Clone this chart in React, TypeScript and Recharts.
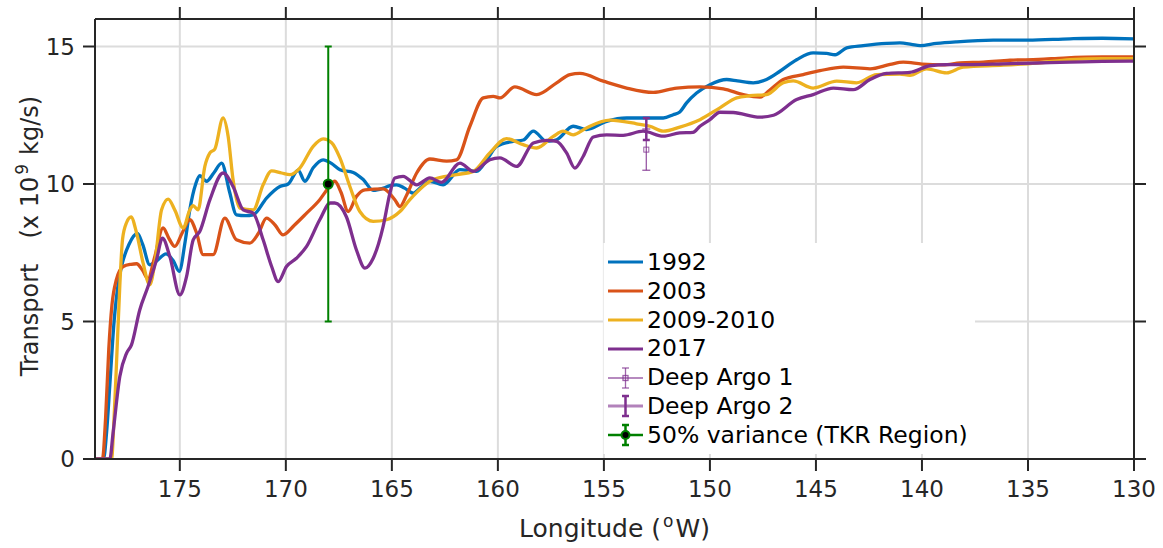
import React from 'react';
import {
  ComposedChart,
  Line,
  Scatter,
  ErrorBar,
  XAxis,
  YAxis,
  CartesianGrid,
  Legend,
  Label,
} from 'recharts';

const FONT = '"DejaVu Sans", "Liberation Sans", sans-serif';
const BLUE = '#0072BD';
const ORANGE = '#D95319';
const YELLOW = '#EDB120';
const PURPLE = '#7E2F8E';
const GREEN = '#008000';
const AXIS = '#262626';

const xTicks = [175, 170, 165, 160, 155, 150, 145, 140, 135, 130];
const yTicks = [0, 5, 10, 15];

// [longitude (deg W), transport (x 10^9 kg/s)]
const s1992: [number, number][] = [
  [179.0, 0], [178.6, 0], [178.45, 1.0], [178.3, 2.7], [178.1, 5.0], [177.9, 6.4], [177.75, 7.0],
  [177.4, 7.8], [177.0, 8.2], [176.75, 7.8], [176.42, 7.06], [176.1, 7.2], [175.65, 7.46], [175.3, 7.2],
  [175.03, 6.82], [174.75, 7.9], [174.53, 9.06], [174.25, 10.0], [174.06, 10.3], [173.74, 10.1],
  [173.4, 10.4], [173.03, 10.76], [172.65, 9.7], [172.33, 8.88], [171.9, 8.85], [171.54, 8.88],
  [170.91, 9.49], [170.28, 9.91], [169.89, 10.0], [169.42, 10.5], [169.1, 10.1], [168.7, 10.6],
  [168.24, 10.88], [167.85, 10.75], [167.45, 10.52], [166.82, 10.42], [166.35, 10.16], [165.88, 9.77],
  [165.4, 9.85], [165.09, 9.94], [164.78, 9.97], [164.4, 9.85], [163.99, 9.67], [163.6, 9.9],
  [163.21, 10.1], [162.58, 9.97], [161.79, 10.52], [161.0, 10.46], [160.5, 10.9], [160.06, 11.37],
  [159.28, 11.55], [158.8, 11.6], [158.33, 11.92], [157.7, 11.55], [157.23, 11.61], [156.45, 12.1],
  [155.82, 11.98], [154.87, 12.28], [153.93, 12.4], [152.99, 12.4], [152.2, 12.4], [151.73, 12.52],
  [151.42, 12.62], [151.1, 12.95], [150.63, 13.31], [150.0, 13.61], [149.21, 13.8], [148.7, 13.75],
  [147.96, 13.68], [147.33, 13.8], [146.7, 14.1], [145.91, 14.52], [145.13, 14.77], [144.5, 14.75],
  [144.1, 14.7], [143.55, 14.95], [142.77, 15.03], [141.67, 15.11], [141.04, 15.13], [140.5, 15.08],
  [140.09, 15.03], [139.31, 15.11], [138.36, 15.17], [136.64, 15.23], [135.0, 15.23], [133.02, 15.28],
  [131.5, 15.3], [130.0, 15.28],
];

const s2003: [number, number][] = [
  [179.0, 0], [178.65, 0], [178.5, 1.5], [178.35, 4.0], [178.2, 5.6], [178.0, 6.5], [177.67, 7.0],
  [177.3, 7.08], [177.04, 7.1], [176.75, 6.85], [176.5, 6.55], [176.2, 7.3], [175.79, 8.4], [175.5, 8.0],
  [175.24, 7.73], [174.9, 8.2], [174.53, 8.7], [174.21, 8.22], [173.9, 7.43], [173.43, 7.43],
  [172.88, 8.76], [172.33, 7.97], [171.7, 7.85], [171.3, 8.2], [170.91, 8.76], [170.5, 8.5],
  [170.13, 8.15], [169.6, 8.5], [169.02, 8.94], [168.4, 9.43], [168.0, 9.85], [167.69, 10.1],
  [167.4, 9.7], [167.06, 9.0], [166.67, 9.55], [166.27, 9.79], [165.41, 9.82], [164.86, 9.43],
  [164.62, 9.18], [164.3, 9.6], [163.83, 10.4], [163.21, 10.91], [162.42, 10.83], [161.95, 10.88],
  [161.32, 12.1], [160.69, 13.13], [160.22, 13.19], [159.9, 13.13], [159.2, 13.53], [158.17, 13.25],
  [157.23, 13.68], [156.6, 13.98], [156.13, 14.02], [155.03, 13.74], [153.93, 13.49], [152.67, 13.33],
  [151.57, 13.49], [150.47, 13.53], [149.37, 13.46], [148.43, 13.25], [147.64, 13.16], [147.2, 13.4],
  [146.54, 13.8], [145.6, 13.98], [144.81, 14.12], [143.71, 14.25], [142.45, 14.19], [141.5, 14.35],
  [140.88, 14.43], [140.0, 14.36], [139.0, 14.33], [138.2, 14.4], [137.11, 14.43], [135.85, 14.5],
  [134.5, 14.53], [133.33, 14.58], [131.5, 14.62], [130.0, 14.62],
];

const s2009: [number, number][] = [
  [179.0, 0], [178.22, 0], [178.1, 1.5], [177.99, 3.4], [177.83, 6.3], [177.7, 8.0], [177.51, 8.6],
  [177.3, 8.8], [177.04, 8.22], [176.73, 7.12], [176.42, 6.33], [176.18, 7.12], [175.86, 9.06],
  [175.55, 9.45], [175.24, 9.06], [174.84, 8.4], [174.53, 9.06], [174.37, 9.21], [174.14, 9.06],
  [173.82, 10.64], [173.58, 11.13], [173.35, 11.27], [172.96, 12.4], [172.72, 11.73], [172.49, 10.16],
  [172.17, 9.12], [171.54, 9.06], [171.07, 9.97], [170.67, 10.48], [170.2, 10.4], [169.81, 10.34],
  [169.34, 10.58], [168.71, 11.37], [168.24, 11.64], [167.84, 11.5], [167.45, 10.95], [166.98, 9.91],
  [166.51, 9.0], [165.88, 8.64], [165.25, 8.7], [164.62, 9.0], [164.15, 9.43], [163.05, 10.16],
  [161.95, 10.34], [161.16, 10.46], [160.38, 11.13], [159.59, 11.65], [158.81, 11.43], [158.17, 11.31],
  [157.39, 11.73], [156.92, 11.92], [156.45, 11.79], [155.82, 12.04], [154.72, 12.32], [153.46, 12.19],
  [152.83, 12.1], [152.2, 11.92], [151.42, 12.07], [150.47, 12.34], [149.53, 12.77], [148.74, 13.13],
  [148.11, 13.21], [147.33, 13.25], [146.54, 13.68], [146.07, 13.75], [145.13, 13.49], [144.02, 13.74],
  [143.08, 13.68], [142.14, 13.98], [141.04, 14.0], [140.57, 13.95], [139.78, 14.19], [138.84, 14.04],
  [138.05, 14.25], [136.16, 14.32], [134.59, 14.4], [133.02, 14.52], [131.5, 14.56], [130.0, 14.56],
];

const s2017: [number, number][] = [
  [179.0, 0], [178.3, 0], [178.15, 0.93], [177.83, 3.0], [177.51, 3.85], [177.28, 4.15], [176.89, 5.42],
  [176.5, 6.27], [176.1, 7.24], [175.82, 8.03], [175.47, 7.36], [175.0, 5.97], [174.68, 6.64],
  [174.37, 7.97], [174.06, 8.27], [173.58, 9.43], [172.96, 10.4], [172.49, 9.91], [172.01, 9.06],
  [171.54, 8.94], [171.07, 7.97], [170.67, 7.0], [170.36, 6.45], [169.97, 7.0], [169.5, 7.3],
  [169.02, 7.73], [168.4, 8.7], [167.9, 9.31], [167.69, 9.31], [167.14, 8.8], [166.67, 7.6],
  [166.27, 6.94], [165.88, 7.3], [165.41, 8.46], [165.09, 9.67], [164.86, 10.22], [164.47, 10.28],
  [163.83, 9.97], [163.21, 10.22], [162.66, 10.06], [161.79, 10.76], [161.16, 10.46], [160.38, 10.88],
  [159.91, 10.95], [159.12, 10.64], [158.33, 11.49], [157.7, 11.59], [157.23, 11.55], [156.76, 11.13],
  [156.37, 10.58], [155.98, 11.0], [155.5, 11.71], [154.87, 11.79], [154.09, 11.77], [153.15, 11.92],
  [152.2, 11.74], [151.42, 11.86], [150.8, 11.88], [150.47, 12.1], [150.0, 12.34], [149.53, 12.61],
  [148.9, 12.6], [147.64, 12.43], [147.0, 12.5], [145.91, 13.07], [145.13, 13.25], [144.18, 13.49],
  [143.24, 13.43], [142.45, 13.8], [141.67, 14.02], [140.57, 14.06], [139.62, 14.3], [138.84, 14.34],
  [137.74, 14.34], [136.16, 14.37], [134.59, 14.4], [133.02, 14.43], [131.5, 14.46], [130.0, 14.47],
];

const deepArgo1 = [{ lon: 153, v: 11.25, err: 0.75 }];
const deepArgo2 = [{ lon: 153, v: 12.0, err: 0.4 }];
const tkrVariance = [{ lon: 168, v: 10, err: 5 }];

const seriesNames = ['1992', '2003', '2009-2010', '2017'];
const seriesColors = [BLUE, ORANGE, YELLOW, PURPLE];
const seriesPoints = [s1992, s2003, s2009, s2017];
const markerNames = ['Deep Argo 1', 'Deep Argo 2', '50% variance (TKR Region)'];

const toData = (pts: [number, number][]) => pts.map(([lon, v]) => ({ lon, v }));

const squareShape = (p: any) => (
  <rect x={p.cx - 2.5} y={p.cy - 2.5} width={5} height={5} fill="none" stroke={PURPLE} strokeOpacity={0.8} strokeWidth={1} />
);
const noShape = () => <g />;
const dotShape = (p: any) => (
  <circle cx={p.cx} cy={p.cy} r={4.5} fill="#000" stroke={GREEN} strokeWidth={2} />
);

const LegendSample = ({ kind, color }: { kind: string; color?: string }) => {
  const cy = 14;
  if (kind === 'line') {
    return (
      <svg width={36} height={28}>
        <line x1={0} y1={cy} x2={35} y2={cy} stroke={color} strokeWidth={3.2} />
      </svg>
    );
  }
  if (kind === 'argo1') {
    return (
      <svg width={36} height={28}>
        <g stroke={PURPLE} strokeOpacity={0.75} strokeWidth={1.3} fill="none">
          <line x1={0} y1={cy} x2={35} y2={cy} />
          <line x1={17.5} y1={cy - 10} x2={17.5} y2={cy + 10} />
          <line x1={14} y1={cy - 10} x2={21} y2={cy - 10} />
          <line x1={14} y1={cy + 10} x2={21} y2={cy + 10} />
          <rect x={15} y={cy - 2.5} width={5} height={5} />
        </g>
      </svg>
    );
  }
  if (kind === 'argo2') {
    return (
      <svg width={36} height={28}>
        <line x1={0} y1={cy} x2={35} y2={cy} stroke={PURPLE} strokeOpacity={0.6} strokeWidth={3} />
        <g stroke={PURPLE} strokeWidth={2.5}>
          <line x1={17.5} y1={cy - 10} x2={17.5} y2={cy + 10} />
          <line x1={14} y1={cy - 10} x2={21} y2={cy - 10} />
          <line x1={14} y1={cy + 10} x2={21} y2={cy + 10} />
        </g>
      </svg>
    );
  }
  return (
    <svg width={36} height={28}>
      <g stroke={GREEN} strokeWidth={2.5}>
        <line x1={0} y1={cy} x2={35} y2={cy} />
        <line x1={17.5} y1={cy - 10} x2={17.5} y2={cy + 10} />
        <line x1={14} y1={cy - 10} x2={21} y2={cy - 10} />
        <line x1={14} y1={cy + 10} x2={21} y2={cy + 10} />
      </g>
      <circle cx={17.5} cy={cy} r={4} fill="#000" stroke={GREEN} strokeWidth={2} />
    </svg>
  );
};

const renderLegend = () => {
  const items = [
    ...seriesNames.map((name, i) => ({ name, kind: 'line', color: seriesColors[i] })),
    { name: markerNames[0], kind: 'argo1' },
    { name: markerNames[1], kind: 'argo2' },
    { name: markerNames[2], kind: 'tkr' },
  ];
  return (
    <div
      style={{
        background: '#fff',
        width: 372,
        height: 211,
        boxSizing: 'border-box',
        borderLeft: '1px solid #ececec',
        padding: '5px 0 0 4px',
        fontFamily: FONT,
        fontSize: 23.5,
        color: '#000',
      }}
    >
      {items.map((it) => (
        <div key={it.name} style={{ display: 'flex', alignItems: 'center', height: 28.8 }}>
          <LegendSample kind={it.kind} color={(it as any).color} />
          <span style={{ marginLeft: 3, lineHeight: '28.8px', whiteSpace: 'nowrap' }}>{it.name}</span>
        </div>
      ))}
    </div>
  );
};

const XLabelContent = (props: any) => {
  const vb = props.viewBox || { x: 95, y: 459, width: 1039, height: 89 };
  const cx = vb.x + vb.width / 2;
  const y = vb.y + 78;
  return (
    <text x={cx} y={y} textAnchor="middle" fontFamily={FONT} fontSize={25} fill={AXIS}>
      <tspan>Longitude (</tspan>
      <tspan dx={2} dy={-10} fontSize={17}>o</tspan>
      <tspan dx={2} dy={10}>W)</tspan>
    </text>
  );
};

const YLabelContent = (props: any) => {
  const vb = props.viewBox || { x: 0, y: 19, width: 95, height: 440 };
  const cx = 38;
  const cy = vb.y + vb.height / 2 - 3;
  return (
    <text
      x={cx}
      y={cy}
      transform={`rotate(-90 ${cx} ${cy})`}
      textAnchor="middle"
      fontFamily={FONT}
      fontSize={24}
      fill={AXIS}
    >
      <tspan>Transport</tspan>
      <tspan dx={25}>(x 10</tspan>
      <tspan dx={2} dy={-10} fontSize={17}>9</tspan>
      <tspan dx={9} dy={10}>kg/s)</tspan>
    </text>
  );
};

const axisLineStyle = { stroke: AXIS, strokeWidth: 2 };
const tickStyle = { fill: AXIS, fontSize: 23, fontFamily: FONT };
const blankTick = () => '';

export default function App() {
  return (
    <div style={{ position: 'absolute', left: 0, top: 0, width: 1163, height: 548, background: '#fff' }}>
      <ComposedChart width={1163} height={548} margin={{ top: 5, right: 15, bottom: 0, left: 0 }}>
        <CartesianGrid xAxisId="b" yAxisId="l" stroke="#dcdcdc" strokeWidth={2} />
        <XAxis
          xAxisId="b"
          type="number"
          dataKey="lon"
          domain={[130, 179]}
          reversed
          allowDataOverflow
          ticks={xTicks}
          interval={0}
          height={89}
          tickSize={12}
          tickMargin={10}
          tick={tickStyle}
          axisLine={axisLineStyle}
          tickLine={axisLineStyle}
        >
          <Label content={XLabelContent} />
        </XAxis>
        <XAxis
          xAxisId="t"
          orientation="top"
          type="number"
          dataKey="lon"
          domain={[130, 179]}
          reversed
          allowDataOverflow
          ticks={xTicks}
          interval={0}
          height={14}
          tickSize={12}
          tickMargin={0}
          tickFormatter={blankTick}
          tick={{ fill: 'none', fontSize: 1 }}
          axisLine={axisLineStyle}
          tickLine={axisLineStyle}
        />
        <YAxis
          yAxisId="l"
          type="number"
          dataKey="v"
          domain={[0, 16]}
          allowDataOverflow
          ticks={yTicks}
          interval={0}
          width={95}
          tickSize={12}
          tickMargin={8}
          tick={tickStyle}
          axisLine={axisLineStyle}
          tickLine={axisLineStyle}
        >
          <Label content={YLabelContent} />
        </YAxis>
        <YAxis
          yAxisId="r"
          orientation="right"
          type="number"
          dataKey="v"
          domain={[0, 16]}
          allowDataOverflow
          ticks={yTicks}
          interval={0}
          width={14}
          tickSize={12}
          tickMargin={0}
          tickFormatter={blankTick}
          tick={{ fill: 'none', fontSize: 1 }}
          axisLine={axisLineStyle}
          tickLine={axisLineStyle}
        />
        {seriesPoints.map((pts, i) => (
          <Line
            key={seriesNames[i]}
            name={seriesNames[i]}
            xAxisId="b"
            yAxisId="l"
            data={toData(pts)}
            dataKey="v"
            type="monotone"
            stroke={seriesColors[i]}
            strokeWidth={3.3}
            dot={false}
            activeDot={false}
            isAnimationActive={false}
          />
        ))}
        <Scatter name={markerNames[0]} xAxisId="b" yAxisId="l" data={deepArgo1} shape={squareShape} isAnimationActive={false}>
          <ErrorBar dataKey="err" direction="y" width={4} stroke={PURPLE} strokeOpacity={0.8} strokeWidth={1.3} isAnimationActive={false} />
        </Scatter>
        <Scatter name={markerNames[1]} xAxisId="b" yAxisId="l" data={deepArgo2} shape={noShape} isAnimationActive={false}>
          <ErrorBar dataKey="err" direction="y" width={3.5} stroke={PURPLE} strokeWidth={2.5} isAnimationActive={false} />
        </Scatter>
        <Scatter name={markerNames[2]} xAxisId="b" yAxisId="l" data={tkrVariance} shape={dotShape} isAnimationActive={false}>
          <ErrorBar dataKey="err" direction="y" width={3.5} stroke={GREEN} strokeWidth={2} isAnimationActive={false} />
        </Scatter>
        <Legend
          content={renderLegend}
          layout="horizontal"
          verticalAlign="middle"
          align="center"
          wrapperStyle={{ position: 'absolute', left: 603, top: 243, width: 372, height: 211, right: 'auto', bottom: 'auto', margin: 0 }}
        />
      </ComposedChart>
    </div>
  );
}
